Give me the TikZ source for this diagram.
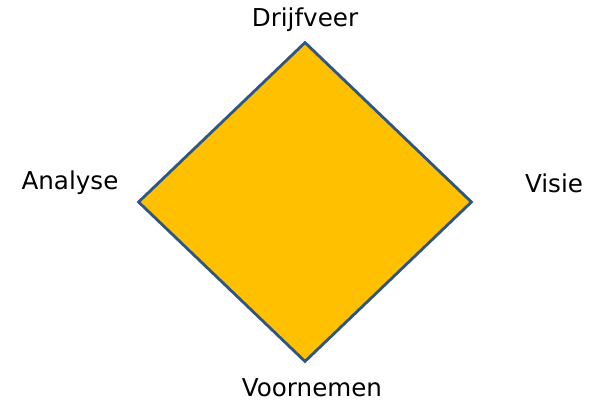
\documentclass[tikz,border=0pt]{standalone}
\usepackage{fontspec}
\setmainfont{DejaVu Sans}
\usetikzlibrary{positioning, shapes.geometric}

\definecolor{ruitcolor}{RGB}{255, 192, 0}
\definecolor{randcolor}{RGB}{47, 85, 130}

\begin{document}
\begin{tikzpicture}[
    x=0.025cm, y=-0.025cm,
    ruit/.style={diamond, draw=randcolor, line width=2pt, fill=ruitcolor, inner sep=0pt, minimum width=334*0.025cm, minimum height=320*0.025cm},
    hoek/.style={font=\fontsize{17.5}{21}\selectfont, black}
]

\useasboundingbox (0,0) rectangle (592,401);

% Ruit
\node[ruit] (ruit) at (305,202) {};

% Hoeken
\node[hoek] (drijfveer) at (305,20) {Drijfveer};
\node[hoek] (analyse) at (70,183) {Analyse};
\node[hoek] (visie) at (554,183) {Visie};
\node[hoek] (voornemen) at (312,388) {Voornemen};

\end{tikzpicture}
\end{document}
